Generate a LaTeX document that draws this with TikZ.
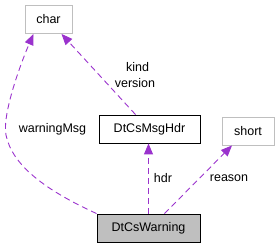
\documentclass[tikz,border=0pt]{standalone}
\usepackage{fontspec}
\setmainfont{Liberation Sans}
\usetikzlibrary{arrows.meta}
\definecolor{edgepurple}{HTML}{9A32CD}
\definecolor{boxgray}{HTML}{BFBFBF}
\definecolor{linegray}{HTML}{BFBFBF}
\begin{document}
\begin{tikzpicture}[x=1pt, y=-1pt,
  font=\fontsize{12.5}{14}\selectfont,
  cls/.style={draw=black, line width=0.9pt, minimum height=28pt, inner sep=0pt},
  ext/.style={draw=linegray, line width=0.9pt, minimum height=28pt, inner sep=0pt},
  uses/.style={edgepurple, dashed, dash pattern=on 6pt off 4pt, line width=0.9pt,
    -{Triangle[length=11pt, width=9pt]}},
  lbl/.style={inner sep=0pt}]
  \useasboundingbox (0,0) rectangle (278,248);

  % Boxes
  \node[ext, minimum width=47pt] (char) at (48.5,19.5) {char};
  \node[cls, minimum width=101pt] (msghdr) at (149.5,129) {DtCsMsgHdr};
  \node[ext, minimum width=52pt] (short) at (248,131) {short};
  \node[cls, fill=boxgray, minimum width=103pt] (warn) at (148.5,228) {DtCsWarning};

  % Member edges
  \draw[uses] (warn.north) -- (warn.north |- msghdr.south);
  \draw[uses] ([xshift=16pt]warn.north) -- ([xshift=-16pt]short.south);
  \draw[uses] ([xshift=-14pt]msghdr.north) -- ([xshift=13pt]char.south);
  \coordinate (wmbend) at (6,135);
  \draw[uses] (warn.north west) .. controls (45,190) and (12,165) .. (wmbend)
    .. controls (2,115) and (20,65) .. ([xshift=-15pt]char.south);

  % Edge labels
  \node[lbl] (hdrlbl) at (163,178) {hdr};
  \node[lbl] (reasonlbl) at (229,178) {reason};
  \node[lbl] (kindlbl) at (137.5,67) {kind};
  \node[lbl] (verlbl) at (135,83) {version};
  \node[lbl] (wmlbl) at (52.5,129) {warningMsg};
\end{tikzpicture}
\end{document}
